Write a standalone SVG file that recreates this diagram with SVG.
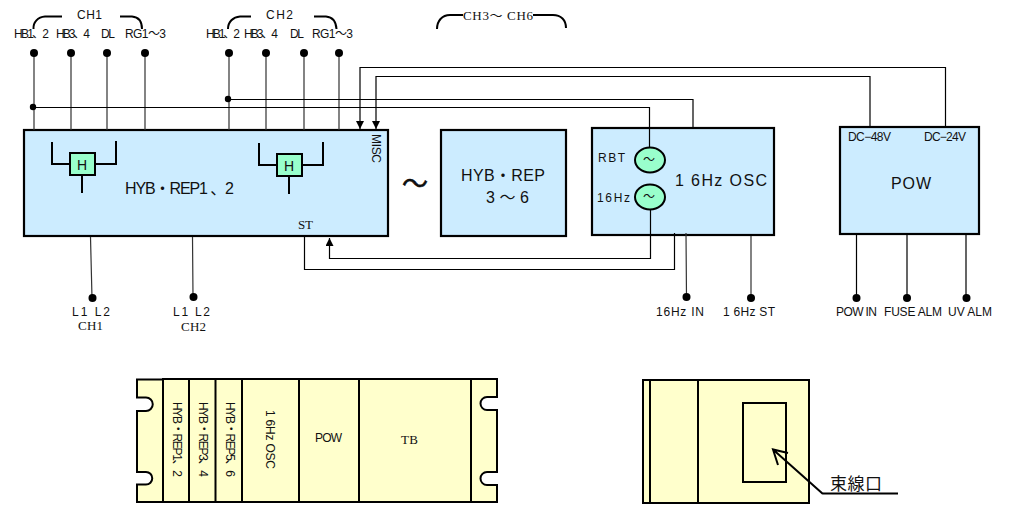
<svg xmlns="http://www.w3.org/2000/svg" width="1021" height="507" viewBox="0 0 1021 507">
<defs>
<style>
text{font-family:"Liberation Sans","Noto Sans CJK JP",sans-serif;fill:#111;font-size:12px;white-space:pre}
.s{font-family:"Liberation Serif","Noto Sans CJK JP",serif;font-size:13px}
.b{font-size:16px}
.box{fill:#CCECFF;stroke:#000;stroke-width:2.2}
.y{fill:#FFFFCC;stroke:#000;stroke-width:2}
.h{fill:#99FFCC;stroke:#000;stroke-width:2}
.w{fill:none;stroke:#000;stroke-width:1.2}
.g{fill:none;stroke:#333;stroke-width:1.2}
.t{fill:none;stroke:#000;stroke-width:2}
.d{fill:#000}
</style>
<marker id="ah" markerUnits="userSpaceOnUse" markerWidth="9" markerHeight="8" refX="8" refY="4" orient="auto"><path d="M0,0L8,4L0,8Z" fill="#000"/></marker>
</defs>
<rect width="1021" height="507" fill="#fff"/>
<g id="hyb-rep-1-2">
<rect class="box" x="24" y="130" width="364" height="106"/>
<path class="t" d="M52,142V164H70M95,164H116V141M82,175V193"/>
<rect class="h" x="70" y="153" width="25" height="22"/>
<text x="77" y="170" style="font-size:14px">H</text>
<path class="t" d="M259,143V165H277M302,165H323V142M289,176V194"/>
<rect class="h" x="277" y="154" width="25" height="22"/>
<text x="284" y="171" style="font-size:14px">H</text>
<text class="b" x="125" y="194" textLength="109">HYB・REP1 、2</text>
<text class="s" x="298" y="229" textLength="15">ST</text>
<text x="372" y="134" transform="rotate(90 372 134)" textLength="29">MISC</text>
</g>
<text id="wave" x="402" y="193" style="font-size:26px;stroke:#000;stroke-width:.5" textLength="25">〜</text>
<g id="hyb-rep-3-6">
<rect class="box" x="441" y="130" width="125" height="106"/>
<text class="b" x="461" y="181" textLength="84">HYB・REP</text>
<text class="b" x="486" y="203" textLength="43">3〜6</text>
</g>
<g id="osc-16hz">
<rect class="box" x="592" y="128" width="182" height="107"/>
<ellipse class="h" cx="650" cy="160" rx="15" ry="12.500"/>
<ellipse class="h" cx="650" cy="197" rx="15" ry="12.500"/>
<text x="643" y="164" textLength="14">〜</text>
<text x="643" y="201" textLength="14">〜</text>
<text x="598" y="162" textLength="27">RBT</text>
<text x="597" y="202" textLength="33">16Hz</text>
<text class="b" x="675" y="186" textLength="92">1 6Hz OSC</text>
</g>
<g id="pow">
<rect class="box" x="840" y="127" width="139" height="107"/>
<text x="848" y="141" textLength="43">DC−48V</text>
<text x="924" y="141" textLength="42">DC−24V</text>
<text x="891" y="189" textLength="40" style="font-size:16px">POW</text>
</g>
<g id="connectors">
<path class="g" d="M34,53V130M71,53V130M107,53V130M145,53V130M229,53V130M266,53V130M304,53V130M339,53V130"/>
<path class="g" d="M90.500,237L92,298M192.500,237L193,297M686,233L686.500,297M751,236V298"/>
<path class="w" d="M856.500,235V298M907,235V298M966,235V298"/>
<path class="w" d="M33,107.500H649.500V147M228,99.500H693V127"/>
<path class="w" marker-end="url(#ah)" d="M870,126V76.500H376V129"/>
<path class="w" marker-end="url(#ah)" d="M945.500,126V67.500H360V129"/>
<path class="w" marker-end="url(#ah)" d="M650.500,210V258.500H329.500V238"/>
<path class="w" d="M674.500,233V269.500H304.500V237"/>
</g>
<g id="terminals">
<g class="d"><circle cx="34" cy="53" r="4"/><circle cx="71" cy="53" r="4"/><circle cx="107" cy="53" r="4"/><circle cx="145" cy="53" r="4"/><circle cx="229" cy="53" r="4"/><circle cx="266" cy="53" r="4"/><circle cx="304" cy="53" r="4"/><circle cx="339" cy="53" r="4"/><circle cx="33" cy="107" r="3.200"/><circle cx="228" cy="99" r="3.200"/><circle cx="92.500" cy="298" r="4"/><circle cx="193.500" cy="297" r="4"/><circle cx="686.500" cy="297" r="4"/><circle cx="751" cy="298" r="4"/><circle cx="856.500" cy="298" r="4"/><circle cx="907" cy="298" r="4"/><circle cx="966.500" cy="298" r="4"/></g>
<text x="77" y="19" textLength="25">CH1</text>
<text x="14" y="38" textLength="35">HB1、2</text>
<text x="56" y="38" textLength="34">HB3、4</text>
<text x="101" y="38" textLength="14">DL</text>
<text x="125" y="38" textLength="41">RG1〜3</text>
<text x="266" y="19" textLength="27">CH2</text>
<text x="206" y="38" textLength="34">HB1、2</text>
<text x="244" y="38" textLength="34">HB3、4</text>
<text x="290" y="38" textLength="14">DL</text>
<text x="312" y="38" textLength="41">RG1〜3</text>
<text class="s" x="463" y="20" textLength="70">CH3〜 CH6</text>
<path class="t" d="M33.500,29C33,22 38,17 45,16.500H62M120,16.500H132C138,17 142,21 142,29"/>
<path class="t" d="M228,29C228,22 233,17 240,16.500H251M314,16.500H326C332,17 336,21 336.500,29"/>
<path class="t" d="M437,29C437,21 442,15 450,15H463M533,15H553C561,15 566,20 566,28"/>
<text x="72" y="316" textLength="38">L1 L2</text>
<text class="s" x="78" y="330" textLength="25">CH1</text>
<text x="173" y="316" textLength="37">L1 L2</text>
<text class="s" x="181" y="331" textLength="25">CH2</text>
<text x="656" y="316" textLength="48">16Hz IN</text>
<text x="723" y="316" textLength="52">1 6Hz ST</text>
<text x="836" y="316" textLength="41">POW IN</text>
<text x="884" y="316" textLength="58">FUSE ALM</text>
<text x="948" y="316" textLength="44">UV ALM</text>
</g>
<g id="front-view">
<path class="y" d="M137,379.500H163V502H137V484.500H146A6.250,6.250 0 0 0 146,472H137V411H146A6.750,6.750 0 0 0 146,397.500H137Z"/>
<path class="y" d="M497,379V397H487A6.500,6.500 0 0 0 487,410H497V472H487A6.500,6.500 0 0 0 487,485H497V502H471V379Z"/>
<path class="y" d="M163,379H471V502H163Z"/>
<path class="t" d="M189,379V502M215.500,379V502M242,379V502M299,379V502M359,379V502"/>
<text x="172.500" y="402" transform="rotate(90 172.500 402)" textLength="75">HYB・REP1、2</text>
<text x="199" y="402" transform="rotate(90 199 402)" textLength="75">HYB・REP3、4</text>
<text x="225.500" y="402" transform="rotate(90 225.500 402)" textLength="75">HYB・REP5、6</text>
<text x="266" y="410" transform="rotate(90 266 410)" textLength="59">1 6Hz OSC</text>
<text x="315" y="442" textLength="27">POW</text>
<text class="s" x="401" y="444" textLength="17">TB</text>
</g>
<g id="side-view">
<rect class="y" x="643" y="380" width="166" height="123"/>
<path class="t" d="M650,380V503M698,380V503"/>
<rect class="y" x="743" y="403" width="43" height="79"/>
<path class="t" d="M823,494L773,449.500M788,453L773,449.500L778,465"/>
<path class="t" d="M823,493.500H898"/>
<text x="830" y="490" textLength="52" style="font-size:17px">束線口</text>
</g>
</svg>
